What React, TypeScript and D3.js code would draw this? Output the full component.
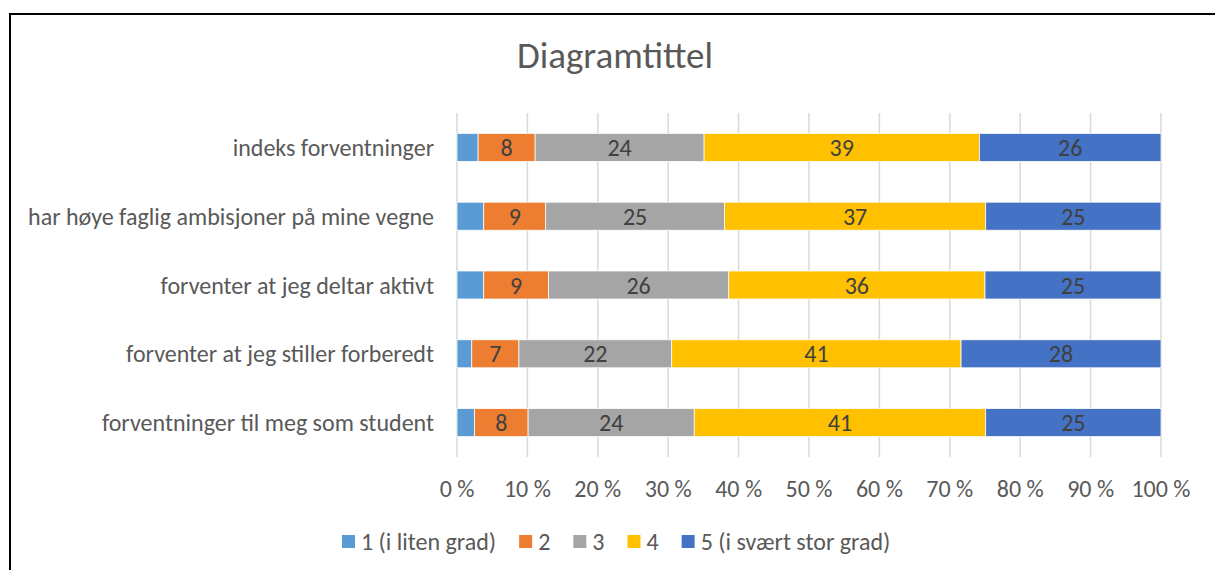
import React, { useEffect, useRef } from "react";
import * as d3 from "d3";

const categories = [
  "indeks forventninger",
  "har høye faglig ambisjoner på mine vegne",
  "forventer at jeg deltar aktivt",
  "forventer at jeg stiller forberedt",
  "forventninger til meg som student",
];
const seriesNames = ["1 (i liten grad)", "2", "3", "4", "5 (i svært stor grad)"];
const colors = ["#5B9BD5", "#ED7D31", "#A5A5A5", "#FFC000", "#4472C4"];

// share per category
const s1 = [3.0, 3.8, 3.8, 2.1, 2.5];
const s2 = [8.1, 8.8, 9.2, 6.7, 7.6];
const s3 = [24.0, 25.4, 25.6, 21.7, 23.6];
const s4 = [39.1, 37.1, 36.4, 41.1, 41.4];
const s5 = [25.8, 24.9, 25.0, 28.4, 24.9];
const xTicks = [0, 10, 20, 30, 40, 50, 60, 70, 80, 90, 100];

const FONT = "Carlito, Calibri, Lato, sans-serif";

export default function App() {
  const svgRef = useRef<SVGSVGElement>(null);

  useEffect(() => {
    const svg = d3.select(svgRef.current);
    svg.selectAll("*").remove();

    const keys = ["a", "b", "c", "d", "e"];
    const all = [s1, s2, s3, s4, s5];
    const data = categories.map((c, i) => {
      const row: any = { cat: c };
      keys.forEach((k, j) => (row[k] = all[j][i]));
      return row;
    });
    const layers = d3.stack().keys(keys).offset(d3.stackOffsetExpand)(data);

    const x = d3.scaleLinear().domain([0, 1]).range([457, 1161]);
    const y = d3
      .scaleBand()
      .domain(categories)
      .range([113, 457])
      .paddingInner(0.593)
      .paddingOuter(0.2965);

    // frame
    svg
      .append("rect")
      .attr("x", 10)
      .attr("y", 14)
      .attr("width", 1220)
      .attr("height", 600)
      .attr("fill", "#fff")
      .attr("stroke", "#000")
      .attr("stroke-width", 2);

    svg
      .append("text")
      .attr("x", 615)
      .attr("y", 68)
      .attr("text-anchor", "middle")
      .attr("font-size", 37)
      .attr("fill", "#595959")
      .text("Diagramtittel");

    // gridlines
    svg
      .append("g")
      .selectAll("line")
      .data(xTicks)
      .join("line")
      .attr("x1", (d) => x(d / 100))
      .attr("x2", (d) => x(d / 100))
      .attr("y1", 113)
      .attr("y2", 457)
      .attr("stroke", "#D9D9D9")
      .attr("stroke-width", 1.5);

    svg
      .append("g")
      .selectAll("text")
      .data(xTicks)
      .join("text")
      .attr("x", (d) => x(d / 100))
      .attr("y", 497)
      .attr("text-anchor", "middle")
      .attr("font-size", 24)
      .attr("fill", "#595959")
      .text((d) => `${d} %`);

    // bars
    const layerG = svg
      .append("g")
      .selectAll("g")
      .data(layers)
      .join("g")
      .attr("fill", (_, i) => colors[i]);
    layerG
      .selectAll("rect")
      .data((d) => d)
      .join("rect")
      .attr("x", (d) => x(d[0]))
      .attr("width", (d) => x(d[1]) - x(d[0]))
      .attr("y", (d: any) => y(d.data.cat)!)
      .attr("height", y.bandwidth())
      .attr("stroke", "#fff")
      .attr("stroke-width", 0.75);

    // value labels (series 2-5)
    layers.forEach((layer, i) => {
      if (i === 0) return;
      svg
        .append("g")
        .selectAll("text")
        .data(layer)
        .join("text")
        .attr("x", (d) => (x(d[0]) + x(d[1])) / 2)
        .attr("y", (d: any) => y(d.data.cat)! + y.bandwidth() / 2 + 8.5)
        .attr("text-anchor", "middle")
        .attr("font-size", 24)
        .attr("fill", "#404040")
        .text((d: any) => Math.round(d.data[layer.key]));
    });

    // category labels
    svg
      .append("g")
      .selectAll("text")
      .data(categories)
      .join("text")
      .attr("x", 434)
      .attr("y", (d) => y(d)! + y.bandwidth() / 2 + 8.5)
      .attr("text-anchor", "end")
      .attr("font-size", 24)
      .attr("fill", "#595959")
      .text((d) => d);

    // legend
    const legend = svg.append("g");
    let lx = 342;
    seriesNames.forEach((name, i) => {
      legend
        .append("rect")
        .attr("x", lx)
        .attr("y", 535)
        .attr("width", 13)
        .attr("height", 13)
        .attr("fill", colors[i]);
      const t = legend
        .append("text")
        .attr("x", lx + 19)
        .attr("y", 550)
        .attr("font-size", 24)
        .attr("fill", "#595959")
        .text(name);
      const w = (t.node() as SVGTextElement).getComputedTextLength();
      lx += 19 + w + 23;
    });
  }, []);

  return (
    <svg
      ref={svgRef}
      width={1215}
      height={570}
      style={{ position: "absolute", left: 0, top: 0, fontFamily: FONT }}
    />
  );
}
